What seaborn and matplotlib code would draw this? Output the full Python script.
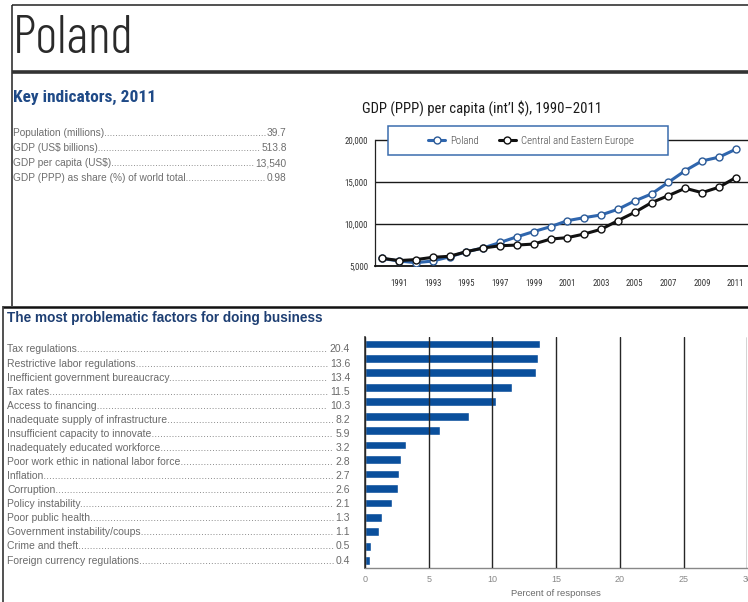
import numpy as np
import pandas as pd
import matplotlib
matplotlib.use("Agg")
import matplotlib.pyplot as plt
import seaborn as sns
from matplotlib.lines import Line2D
from matplotlib.patches import Rectangle
from matplotlib.font_manager import FontProperties
from matplotlib.textpath import TextPath

# key indicators, 2011
ind_names = ["Population (millions)", "GDP (US$ billions)", "GDP per capita (US$)",
             "GDP (PPP) as share (%) of world total"]
ind_values = ["39.7", "513.8", "13,540", "0.98"]

# GDP (PPP) per capita
years = list(range(1990, 2012))
gdp_poland = [5950, 5650, 5450, 5650, 6150, 6750, 7200, 7850, 8520, 9140, 9720,
              10430, 10790, 11110, 11780, 12770, 13600, 14980, 16360, 17510, 17950, 18890]
gdp_cee = [5970, 5700, 5820, 6090, 6210, 6760, 7190, 7460, 7540, 7660, 8250,
           8420, 8850, 9410, 10430, 11420, 12570, 13400, 14270, 13750, 14390, 15530]
year_labels = [str(y) if y % 2 == 1 else "" for y in years]
gdp_ticks = [5000, 10000, 15000, 20000]
gdp_tick_labels = ["5,000", "10,000", "15,000", "20,000"]

# most problematic factors
factors = ["Tax regulations", "Restrictive labor regulations", "Inefficient government bureaucracy",
           "Tax rates", "Access to financing", "Inadequate supply of infrastructure",
           "Insufficient capacity to innovate", "Inadequately educated workforce",
           "Poor work ethic in national labor force", "Inflation", "Corruption",
           "Policy instability", "Poor public health", "Government instability/coups",
           "Crime and theft", "Foreign currency regulations"]
factor_labels = ["20.4", "13.6", "13.4", "11.5", "10.3", "8.2", "5.9", "3.2", "2.8", "2.7",
                 "2.6", "2.1", "1.3", "1.1", "0.5", "0.4"]
# bar lengths as drawn in the picture (first bar is drawn shorter than its label)
factor_bars = [13.7, 13.6, 13.4, 11.5, 10.3, 8.2, 5.9, 3.2, 2.8, 2.7, 2.6, 2.1, 1.3, 1.1, 0.5, 0.4]
pct_ticks = [0, 5, 10, 15, 20, 25, 30]

sns.set_style("white")
plt.rcParams['font.family'] = ['Liberation Sans', 'DejaVu Sans']

W, H = 748, 602
fig = plt.figure(figsize=(W / 100, H / 100), dpi=100)


def fx(px):
    return px / W


def fy(py):
    return 1 - py / H


def fit_size(text, family, weight, width_px):
    # font size (pt) that makes the text about width_px wide at dpi 100
    fp = FontProperties(family=family, weight=weight)
    w = TextPath((0, 0), text, size=100, prop=fp).get_extents().width
    return width_px * 72 / w


cond = "Roboto Condensed"

# frame lines of the page
def hline(y, x0, x1, lw, color="#222222"):
    fig.add_artist(Line2D([fx(x0), fx(x1)], [fy(y), fy(y)], transform=fig.transFigure,
                          color=color, lw=lw, solid_capstyle="butt"))


def vline(x, y0, y1, lw, color="#222222"):
    fig.add_artist(Line2D([fx(x), fx(x)], [fy(y0), fy(y1)], transform=fig.transFigure,
                          color=color, lw=lw, solid_capstyle="butt"))


hline(5, 11.5, W, 1.1)
vline(11.5, 5, 306, 1.1)
hline(71.5, 12, W, 2.6, "#333333")
hline(306.5, 3, W, 1.8, "#111111")
vline(3.3, 306, H, 1.1)

# title block
fig.text(fx(13), fy(53), "Poland", family="Barlow Condensed", fontweight=300,
         fontsize=fit_size("Poland", "Barlow Condensed", 300, 113), color="#2a2a2a", va="baseline")
fig.text(fx(12.7), fy(97), "Key indicators, 2011", family=cond, fontweight="bold",
         fontsize=fit_size("Key indicators, 2011", cond, 700, 139), color="#1f4a87", va="center")

renderer = fig.canvas.get_renderer()


def leader_row(x0, x1, y, label, value, **kw):
    # label ......... value
    t1 = fig.text(fx(x0), fy(y), label, ha="left", va="center", **kw)
    t2 = fig.text(fx(x1), fy(y), value, ha="right", va="center", **kw)
    probe = fig.text(0, 0, "." * 40, **kw)
    dot_w = probe.get_window_extent(renderer).width / 40
    probe.remove()
    gap = t2.get_window_extent(renderer).x0 - t1.get_window_extent(renderer).x1
    n = max(int(gap / dot_w), 0)
    t1.set_text(label + "." * n)


for i, (name, val) in enumerate(zip(ind_names, ind_values)):
    leader_row(12.7, 286.7, 133.3 + i * 15, name, val, fontsize=7.3, color="#6e6e6e")

# ---- line chart: GDP (PPP) per capita
ax1 = fig.add_axes([fx(375), fy(266.5), fx(W) - fx(375), (266.5 - 126) / H])
sns.lineplot(x=years, y=gdp_poland, ax=ax1, color="#2f66ae", lw=2.2, marker="o",
             markersize=5.0, markerfacecolor="white", markeredgecolor="#2b5a97",
             markeredgewidth=1.0, label="Poland", zorder=3)
sns.lineplot(x=years, y=gdp_cee, ax=ax1, color="#111111", lw=2.2, marker="o",
             markersize=5.0, markerfacecolor="white", markeredgecolor="#111111",
             markeredgewidth=1.0, label="Central and Eastern Europe", zorder=3)
ax1.set_xlim(1989.566, 2011.73)
ax1.set_ylim(5000, 5000 + (266.5 - 126) / 42.2 * 5000)
ax1.set_yticks(gdp_ticks)
ax1.set_yticklabels(gdp_tick_labels)
ax1.set_xticks(years)
ax1.set_xticklabels(year_labels)
ax1.yaxis.grid(True, color="#1a1a1a", lw=1.0)
ax1.xaxis.grid(False)
ax1.set_axisbelow(True)
for s in ["top", "right"]:
    ax1.spines[s].set_visible(False)
ax1.spines["left"].set_bounds(5000, 20000)
ax1.spines["left"].set_color("#222222")
ax1.spines["left"].set_linewidth(0.9)
ax1.spines["bottom"].set_color("#111111")
ax1.spines["bottom"].set_linewidth(1.3)
ax1.tick_params(axis="x", direction="inout", length=4, width=0.9, color="#222222", pad=7,
                labelsize=6.3, labelcolor="#333333", labelfontfamily=cond)
ax1.tick_params(axis="y", direction="out", length=3, width=0.9, color="#222222", pad=2,
                labelsize=6.3, labelcolor="#333333", labelfontfamily=cond)
ax1.set_xlabel("")
ax1.set_ylabel("")

gdp_title = "GDP (PPP) per capita (int\u2019l $), 1990\u20132011"
fig.text(fx(361.7), fy(108), gdp_title, family=cond, fontsize=fit_size(gdp_title, cond, 400, 235),
         color="#1a1a1a", va="center")

# legend box
ax1.add_patch(Rectangle((fx(388), fy(155)), (668 - 388) / W, 29 / H, transform=fig.transFigure,
                        facecolor="white", edgecolor="#3a6cad", lw=1.1, zorder=4, clip_on=False))
leg_fp = FontProperties(family=cond, weight=300,
                        size=fit_size("Central and Eastern Europe", cond, 300, 112))
leg = ax1.legend(ncol=2, frameon=False, loc="center", bbox_to_anchor=(fx(531), fy(140.5)),
                 bbox_transform=fig.transFigure, handlelength=1.6, handletextpad=0.5,
                 columnspacing=1.8, prop=leg_fp)
leg.set_zorder(5)
for t in leg.get_texts():
    t.set_color("#444444")

# ---- bar chart: most problematic factors
fig.text(fx(7.3), fy(318), "The most problematic factors for doing business", fontsize=9.8,
         fontweight="bold", color="#1e3f73", va="center")

ax2 = fig.add_axes([fx(365), fy(567.9), fx(747.3) - fx(365), (567.9 - 336.7) / H])
df_bars = pd.DataFrame({"factor": factors, "pct": factor_bars})
sns.barplot(data=df_bars, x="pct", y="factor", orient="h", color="#0a4f9c", saturation=1,
            width=0.6, ax=ax2)
ax2.set_xlim(0, 30)
ax2.set_xticks(pct_ticks)
ax2.set_yticks([])
ax2.set_ylabel("")
ax2.set_xlabel("Percent of responses", fontsize=6.8, color="#6a6a6a", labelpad=4)
# grid lines run over the bars, as in the original
ax2.xaxis.grid(True, color="#262626", lw=1.0)
ax2.set_axisbelow(False)
for s in ["top", "right"]:
    ax2.spines[s].set_visible(False)
ax2.spines["left"].set_color("#333333")
ax2.spines["left"].set_linewidth(1.2)
ax2.spines["bottom"].set_color("#888888")
ax2.spines["bottom"].set_linewidth(1.0)
ax2.tick_params(axis="x", length=0, pad=5, labelsize=6.5, labelcolor="#888888")

for i, (name, val) in enumerate(zip(factors, factor_labels)):
    leader_row(7.3, 350, 349.5 + i * 14.07, name, val, fontsize=7.5, color="#6a6a6a")

plt.savefig("out.png", dpi=100)
